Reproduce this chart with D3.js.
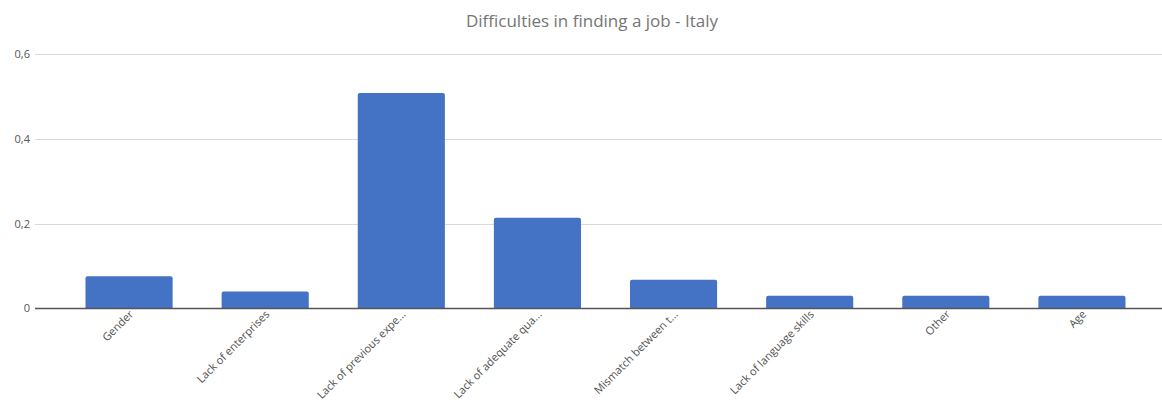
<!DOCTYPE html>
<html>
<head>
<meta charset="utf-8">
<script src="https://cdn.jsdelivr.net/npm/d3@7"></script>
<style>
  html, body { margin: 0; padding: 0; background: #fff; }
  svg { display: block; font-family: "Open Sans", "Liberation Sans", sans-serif; }
</style>
</head>
<body>
<svg id="chart" width="1162" height="403"></svg>
<script>
// Share of respondents citing each difficulty
const categories = [
  "Gender",
  "Lack of enterprises",
  "Lack of previous expe...",
  "Lack of adequate qua...",
  "Mismatch between t...",
  "Lack of language skills",
  "Other",
  "Age"
];
const values = [0.076, 0.040, 0.508, 0.214, 0.068, 0.030, 0.030, 0.030];
const yTicks = [0, 0.2, 0.4, 0.6];
const title = "Difficulties in finding a job - Italy";

const svg = d3.select("#chart");

const gridLeft = 35, gridRight = 1162;
const x = d3.scaleBand()
  .domain(categories)
  .range([61, 1150])
  .paddingInner(0.36)
  .paddingOuter(0.18);

const y = d3.scaleLinear()
  .domain([0, 0.6])
  .range([308.5, 54]);

const fmt = v => v === 0 ? "0" : d3.format(".1f")(v).replace(".", ",");

// Title
svg.append("text")
  .attr("x", 592)
  .attr("y", 27)
  .attr("text-anchor", "middle")
  .attr("fill", "#757575")
  .attr("font-size", 17)
  .text(title);

// Horizontal gridlines
svg.append("g")
  .selectAll("line")
  .data(yTicks.filter(t => t !== 0))
  .join("line")
  .attr("x1", gridLeft)
  .attr("x2", gridRight)
  .attr("y1", d => Math.round(y(d)) + 0.5)
  .attr("y2", d => Math.round(y(d)) + 0.5)
  .attr("stroke", "#d9d9d9")
  .attr("stroke-width", 1);

// Y tick labels
svg.append("g")
  .selectAll("text")
  .data(yTicks)
  .join("text")
  .attr("x", 30)
  .attr("y", d => y(d))
  .attr("dy", "0.35em")
  .attr("text-anchor", "end")
  .attr("fill", "#555")
  .attr("font-size", 11)
  .text(fmt);

// Bars with slightly rounded tops
const r = 2;
svg.append("g")
  .selectAll("path")
  .data(values)
  .join("path")
  .attr("fill", "#4472c4")
  .attr("d", (d, i) => {
    const x0 = x(categories[i]);
    const w = x.bandwidth();
    const yt = y(d);
    const yb = y(0);
    return `M${x0},${yb}V${yt + r}Q${x0},${yt} ${x0 + r},${yt}H${x0 + w - r}Q${x0 + w},${yt} ${x0 + w},${yt + r}V${yb}Z`;
  });

// Baseline
svg.append("line")
  .attr("x1", gridLeft)
  .attr("x2", gridRight)
  .attr("y1", y(0))
  .attr("y2", y(0))
  .attr("stroke", "#555")
  .attr("stroke-width", 1.3);

// Rotated category labels
svg.append("g")
  .selectAll("text")
  .data(categories)
  .join("text")
  .attr("text-anchor", "end")
  .attr("fill", "#505050")
  .attr("font-size", 11)
  .attr("transform", d => `translate(${x(d) + x.bandwidth() / 2 + 5},${315}) rotate(-45)`)
  .text(d => d);
</script>
</body>
</html>
